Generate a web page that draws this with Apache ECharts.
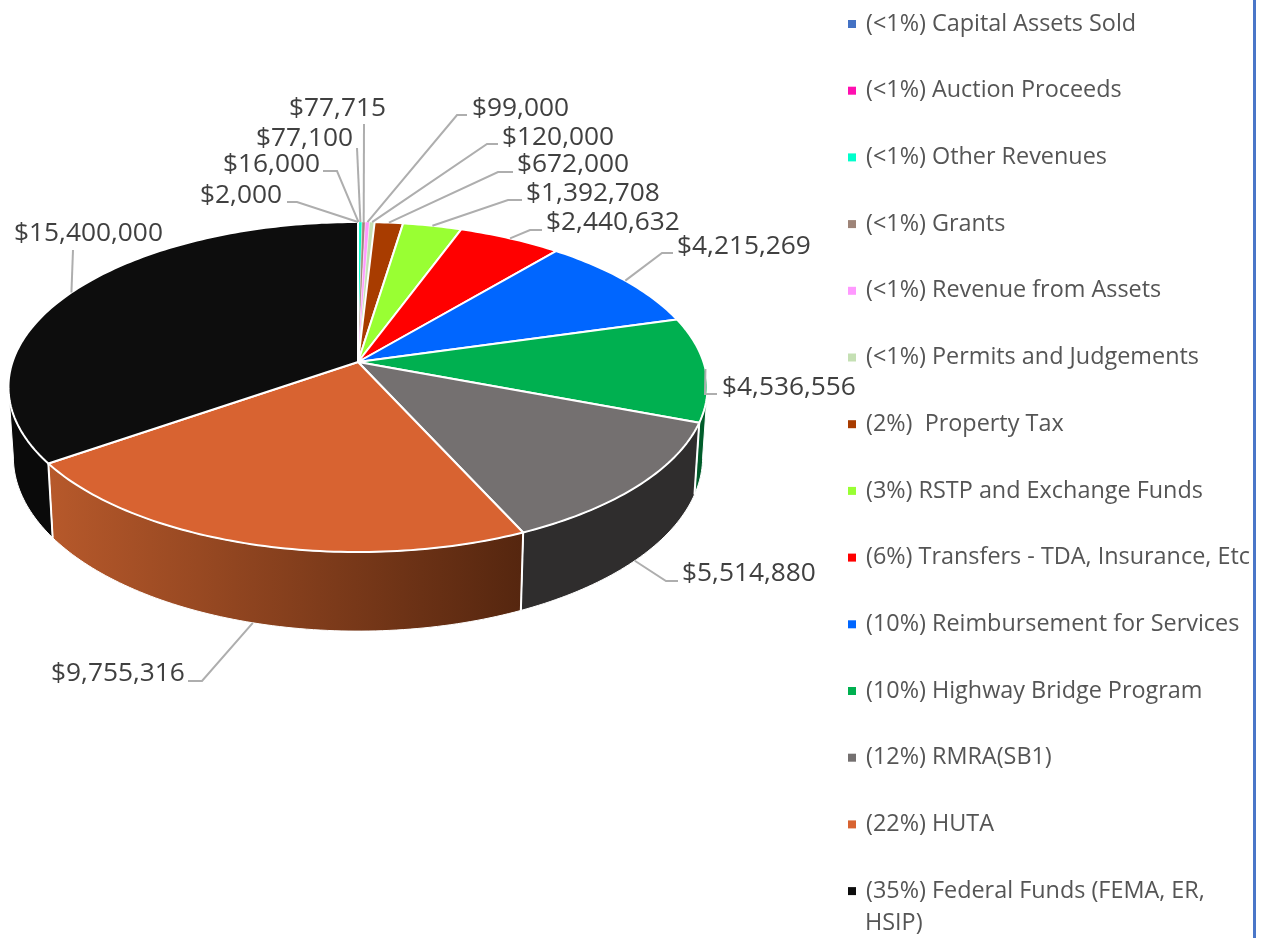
<!DOCTYPE html>
<html lang="en">
<head>
    <meta charset="utf-8">
    <title>Revenue Pie</title>
    <style>
* {
  margin: 0;
  padding: 0;
}
body {
  background: #ffffff;
}
#chart-container {
  position: relative;
  width: 1262px;
  height: 938px;
  overflow: hidden;
}
    </style>
</head>
<body>
<div id="chart-container"></div>
<script src="https://fastly.jsdelivr.net/npm/echarts@6/dist/echarts.min.js"></script>
<script>
const categories = [
  '(<1%) Capital Assets Sold',
  '(<1%) Auction Proceeds',
  '(<1%) Other Revenues',
  '(<1%) Grants',
  '(<1%) Revenue from Assets',
  '(<1%) Permits and Judgements',
  '(2%)  Property Tax',
  '(3%) RSTP and Exchange Funds',
  '(6%) Transfers - TDA, Insurance, Etc',
  '(10%) Reimbursement for Services',
  '(10%) Highway Bridge Program',
  '(12%) RMRA(SB1)',
  '(22%) HUTA',
  '(35%) Federal Funds (FEMA, ER, HSIP)'
];
const revenue = [2000, 16000, 77100, 77715, 99000, 120000, 672000, 1392708, 2440632, 4215269, 4536556, 5514880, 9755316, 15400000];
const topColors = ['#4472c4', '#ff0fb0', '#00ffcc', '#9e8478', '#ff99ff', '#c5e0b4', '#a83c00', '#99ff33', '#ff0000', '#0066ff', '#00b050', '#747070', '#d86331', '#0d0d0d'];
const sideLeft = ['#2f4f8a', '#b00a7a', '#00b08c', '#6e5c54', '#b06ab0', '#889b7c', '#742a00', '#6ab023', '#b00000', '#0047b0', '#005c2a', '#2f2d2d', '#b7592b', '#0a0a0a'];
const sideRight = ['#2f4f8a', '#b00a7a', '#00b08c', '#6e5c54', '#b06ab0', '#889b7c', '#742a00', '#6ab023', '#b00000', '#0047b0', '#005c2a', '#2f2d2d', '#55260f', '#0a0a0a'];

// label layout only: [text left, text middle], where the leader meets the text, optional elbow
const labelAt = [[200, 196], [223, 165], [256, 139], [289, 109], [472, 109], [502, 138], [517, 165], [526, 194], [546, 223], [677, 247], [722, 388], [682, 574], [51, 674], [14, 234]];
const leaderEnd = [[287, 202], [323, 171], [357, 148], [364, 124], [467, 115], [498, 144], [513, 172], [522, 200], [542, 230], [673, 253], [717, 394], [678, 581], [188, 681], [73, 250]];
const leaderElbow = [[297, 202], [337, 171], null, null, [457, 115], [487, 144], [498, 172], [508, 200], [530, 230], [662, 253], [705, 394], [666, 581], [202, 681], null];

// tilted disc: projective map of a circle, apex sits above the ellipse centre
const cx = 358, apexY = 362, radius = 345.5, persp = 0.1515, tilt = 106.4;
// the wall is only seen between the two silhouette angles
const wallFrom = 98.7, wallTo = 261.3;

function project(deg) {
  const t = deg * Math.PI / 180;
  const u = Math.sin(t), v = Math.cos(t);
  const w = 1 + persp * v;
  return [cx + radius * u / w, (apexY - tilt * v) / w];
}
function dropped(p) {
  return [cx + 0.986 * (p[0] - cx), p[1] + 70 + 0.055 * (p[1] - 387)];
}
function arc(a0, a1) {
  const pts = [];
  const n = Math.max(1, Math.ceil(a1 - a0));
  for (let i = 0; i <= n; i++) {
    pts.push(project(a0 + (a1 - a0) * i / n));
  }
  return pts;
}

const total = revenue.reduce((s, v) => s + v, 0);
let running = 0;
const startAngle = revenue.map(v => {
  const a = running / total * 360;
  running += v;
  return a;
});

function money(v) {
  return '$' + v.toLocaleString('en-US');
}

function renderSlice(i, value) {
  const a0 = startAngle[i];
  const a1 = a0 + value / total * 360;
  const rim = arc(a0, a1);
  const children = [];

  // outer wall
  const w0 = Math.max(a0, wallFrom), w1 = Math.min(a1, wallTo);
  if (w1 > w0) {
    const wallRim = arc(w0, w1);
    children.push({
      type: 'polygon',
      z2: 1,
      shape: { points: wallRim.concat(wallRim.map(dropped).reverse()) },
      style: {
        fill: {
          type: 'linear', x: 0, y: 0, x2: 1, y2: 0,
          colorStops: [{ offset: 0, color: sideLeft[i] }, { offset: 1, color: sideRight[i] }]
        },
        stroke: '#ffffff',
        lineWidth: 1
      }
    });
  }
  if (a0 > wallFrom && a0 < wallTo) {
    const p = project(a0);
    const q = dropped(p);
    children.push({
      type: 'line',
      z2: 5,
      shape: { x1: p[0], y1: p[1], x2: q[0], y2: q[1] },
      style: { stroke: '#ffffff', lineWidth: 2 }
    });
  }

  // top face
  children.push({
    type: 'polygon',
    z2: 10 + i,
    shape: { points: [[cx, apexY]].concat(rim) },
    style: {
      fill: topColors[i],
      stroke: '#ffffff',
      lineWidth: a1 - a0 < 1 ? 0.4 : 2,
      lineJoin: 'round'
    }
  });

  // leader and value label
  const mid = (a0 + a1) / 2;
  let from = project(mid);
  if (Math.cos(mid * Math.PI / 180) < -0.3) {
    from = dropped(from);
  }
  const line = [from];
  if (leaderElbow[i]) {
    line.push(leaderElbow[i]);
  }
  line.push(leaderEnd[i]);
  children.push({
    type: 'polyline',
    z2: 40,
    shape: { points: line },
    style: { stroke: '#aeaeae', lineWidth: 2, fill: 'none' }
  });
  children.push({
    type: 'text',
    z2: 41,
    style: {
      x: labelAt[i][0],
      y: labelAt[i][1],
      text: money(value),
      fill: '#404040',
      font: '26.3px "Open Sans"',
      textAlign: 'left',
      textVerticalAlign: 'middle'
    }
  });
  return { type: 'group', children: children };
}

var dom = document.getElementById('chart-container');
var myChart = echarts.init(dom, null, { renderer: 'canvas' });

var option = {
  animation: false,
  backgroundColor: '#ffffff',
  legend: {
    orient: 'vertical',
    left: 848,
    top: 11,
    padding: 0,
    itemWidth: 8,
    itemHeight: 8,
    itemGap: 40.7,
    selectedMode: false,
    icon: 'rect',
    data: categories,
    formatter: name => name.replace(' HSIP)', ''),
    textStyle: {
      color: '#555555',
      fontFamily: 'Open Sans',
      fontSize: 23.4,
      lineHeight: 26,
      padding: [0, 0, 0, 5]
    }
  },
  graphic: [
    {
      type: 'text',
      left: 865,
      top: 912,
      style: { text: 'HSIP)', fill: '#555555', font: '23.4px "Open Sans"' }
    },
    {
      type: 'rect',
      shape: { x: 1253, y: 0, width: 3, height: 938 },
      style: { fill: '#4a76c8' }
    }
  ],
  series: categories.map((name, i) => ({
    name: name,
    type: 'custom',
    coordinateSystem: 'none',
    itemStyle: { color: topColors[i] },
    silent: true,
    data: [[revenue[i]]],
    renderItem: (params, api) => renderSlice(i, api.value(0))
  }))
};

myChart.setOption(option);
window.addEventListener('resize', myChart.resize);
</script>
</body>
</html>
